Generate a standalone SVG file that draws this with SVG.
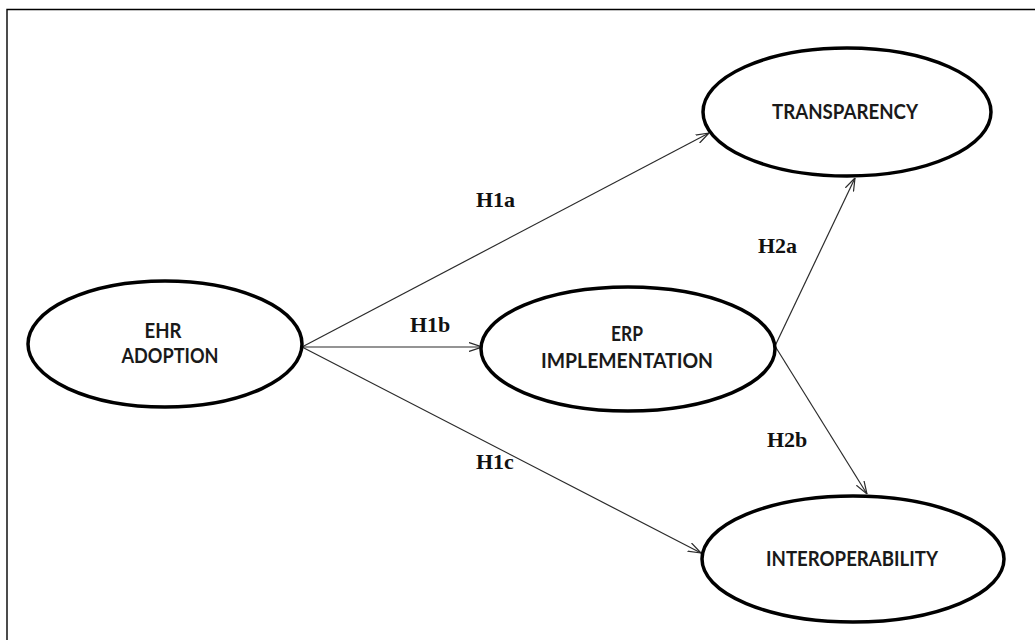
<svg xmlns="http://www.w3.org/2000/svg" width="1035" height="640" viewBox="0 0 1035 640">
  <style>
    .node ellipse { fill: #ffffff; stroke: #000000; stroke-width: 3.5; }
    .node text { font-family: "Lato", "Liberation Sans", sans-serif; font-weight: bold; font-size: 21px; fill: #1a1a1a; text-anchor: middle; }
    .edge line { stroke: #2b2b2b; stroke-width: 1.2; marker-end: url(#arrow); }
    .lbl { font-family: "Liberation Serif", "Times New Roman", serif; font-weight: bold; font-size: 22px; fill: #111111; }
    .frame { stroke: #000000; stroke-width: 1.4; fill: none; }
  </style>
  <defs>
    <marker id="arrow" viewBox="0 0 13 10" refX="13" refY="5" markerWidth="13" markerHeight="10" markerUnits="userSpaceOnUse" orient="auto">
      <path d="M0,0.5 L13,5 L0,9.5" fill="none" stroke="#2b2b2b" stroke-width="1.2"/>
    </marker>
  </defs>

  <rect x="0" y="0" width="1035" height="640" fill="#ffffff"/>
  <!-- outer frame: top and left edges -->
  <path class="frame" d="M7,640 L7,9.5 L1035,9.5"/>

  <!-- connectors -->
  <g id="connectors" class="edge">
    <line x1="302" y1="347" x2="709" y2="133"/>
    <line x1="302" y1="347" x2="482" y2="347"/>
    <line x1="302" y1="347" x2="701" y2="553"/>
    <line x1="775" y1="346" x2="855" y2="178"/>
    <line x1="775" y1="346" x2="867" y2="494"/>
  </g>

  <!-- hypothesis labels -->
  <g id="labels">
    <text class="lbl" x="476" y="207">H1a</text>
    <text class="lbl" x="410" y="332">H1b</text>
    <text class="lbl" x="476" y="469">H1c</text>
    <text class="lbl" x="758" y="253">H2a</text>
    <text class="lbl" x="767" y="447">H2b</text>
  </g>

  <g id="ehr-adoption" class="node">
    <ellipse cx="165" cy="344" rx="137" ry="63"/>
    <text x="163" y="338" textLength="37" lengthAdjust="spacingAndGlyphs">EHR</text>
    <text x="170" y="363" textLength="97" lengthAdjust="spacingAndGlyphs">ADOPTION</text>
  </g>

  <g id="erp-implementation" class="node">
    <ellipse cx="628" cy="349" rx="147" ry="62"/>
    <text x="627" y="341" textLength="32" lengthAdjust="spacingAndGlyphs">ERP</text>
    <text x="627" y="368" textLength="172" lengthAdjust="spacingAndGlyphs">IMPLEMENTATION</text>
  </g>

  <g id="transparency" class="node">
    <ellipse cx="847" cy="112" rx="144" ry="64"/>
    <text x="845" y="119" textLength="146" lengthAdjust="spacingAndGlyphs">TRANSPARENCY</text>
  </g>

  <g id="interoperability" class="node">
    <ellipse cx="853" cy="559" rx="151" ry="63"/>
    <text x="852" y="566" textLength="172" lengthAdjust="spacingAndGlyphs">INTEROPERABILITY</text>
  </g>
</svg>
